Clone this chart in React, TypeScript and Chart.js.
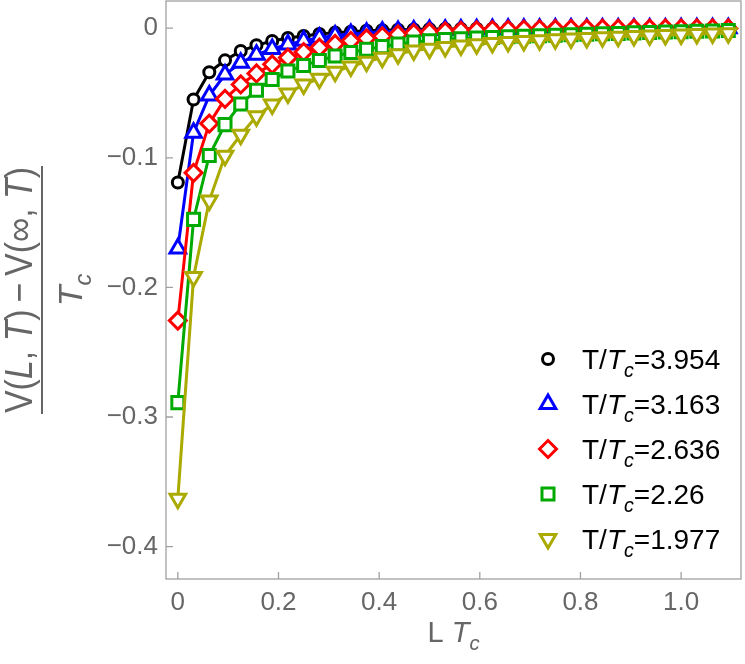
import React, { useEffect, useRef } from 'react';
import { Chart, registerables } from 'chart.js';

Chart.register(...registerables);

// L*Tc sample points
const lTc = [
  0, 0.03125, 0.0625, 0.09375, 0.125, 0.15625, 0.1875, 0.21875, 0.25, 0.28125,
  0.3125, 0.34375, 0.375, 0.40625, 0.4375, 0.46875, 0.5, 0.53125, 0.5625, 0.59375,
  0.625, 0.65625, 0.6875, 0.71875, 0.75, 0.78125, 0.8125, 0.84375, 0.875, 0.90625,
  0.9375, 0.96875, 1.0, 1.03125, 1.0625, 1.09375,
];

// (V(L,T) - V(inf,T)) / Tc for each temperature
const v3954 = [
  -0.119, -0.055, -0.034, -0.0248, -0.0176, -0.0132, -0.0098, -0.0075, -0.006, -0.0045,
  -0.0034, -0.0027, -0.002, -0.0015, -0.0011, -0.0009, -0.0007, -0.0006, -0.0005, -0.0004,
  -0.0004, -0.0003, -0.0003, -0.0002, -0.0002, -0.0002, -0.0001, -0.0001, -0.0001, -0.0001,
  -0.0001, -0.0001, -0.0001, -0.0001, -0.0001, -0.0001,
];
const v3163 = [
  -0.17, -0.0806, -0.052, -0.0357, -0.0266, -0.0205, -0.016, -0.0125, -0.0097, -0.0074,
  -0.0057, -0.0045, -0.0035, -0.0028, -0.0022, -0.0017, -0.0014, -0.0011, -0.0009, -0.0008,
  -0.0006, -0.0005, -0.0005, -0.0004, -0.0003, -0.0003, -0.0003, -0.0002, -0.0002, -0.0002,
  -0.0002, -0.0002, -0.0001, -0.0001, -0.0001, -0.0001,
];
const v2636 = [
  -0.2256, -0.1116, -0.0736, -0.0545, -0.0434, -0.0349, -0.0279, -0.0227, -0.0184, -0.015,
  -0.0121, -0.0097, -0.0078, -0.0062, -0.0048, -0.0038, -0.0031, -0.0025, -0.002, -0.0017,
  -0.0014, -0.0012, -0.001, -0.0008, -0.0007, -0.0006, -0.0005, -0.0004, -0.0004, -0.0003,
  -0.0003, -0.0002, -0.0002, -0.0002, -0.0002, -0.0002,
];
const v2260 = [
  -0.2889, -0.1475, -0.0982, -0.0744, -0.0584, -0.0478, -0.0395, -0.0331, -0.0287, -0.025,
  -0.0215, -0.0188, -0.0163, -0.0142, -0.0122, -0.0106, -0.0096, -0.0088, -0.0081, -0.0076,
  -0.0071, -0.0066, -0.0062, -0.0058, -0.0054, -0.0051, -0.0047, -0.0043, -0.004, -0.0036,
  -0.0033, -0.003, -0.0027, -0.0024, -0.0021, -0.0018,
];
const v1977 = [
  -0.363, -0.192, -0.133, -0.0984, -0.0822, -0.068, -0.0589, -0.0504, -0.0434, -0.039,
  -0.0335, -0.0295, -0.0258, -0.0228, -0.02, -0.0172, -0.0158, -0.0145, -0.0134, -0.0124,
  -0.0115, -0.0107, -0.0099, -0.0092, -0.0086, -0.008, -0.0075, -0.007, -0.0065, -0.006,
  -0.0056, -0.0052, -0.0048, -0.0044, -0.0041, -0.0038,
];

const series = [v3954, v3163, v2636, v2260, v1977];
const ratios = ['3.954', '3.163', '2.636', '2.26', '1.977'];
const colors = ['#000000', '#0000ff', '#ff0000', '#00aa00', '#aaaa00'];
const markers = ['circle', 'triangle', 'rectRot', 'rect', 'triangleDown'];
const radii = [5.5, 9, 8.5, 8.5, 9];

const FONT = '"Liberation Sans", Arial, sans-serif';
const GRAY = '#666666';
const FRAME = '#a0a0a0';

type Seg = { t: string; it?: boolean; sub?: boolean };

const segFont = (s: Seg, size: number) =>
  `${s.it ? 'italic ' : ''}${s.sub ? size * 0.7 : size}px ${FONT}`;

function segsWidth(ctx: CanvasRenderingContext2D, segs: Seg[], size: number) {
  let w = 0;
  for (const s of segs) {
    ctx.font = segFont(s, size);
    w += ctx.measureText(s.t).width;
  }
  return w;
}

function drawSegs(ctx: CanvasRenderingContext2D, segs: Seg[], x: number, y: number, size: number, center: boolean) {
  let cx = center ? x - segsWidth(ctx, segs, size) / 2 : x;
  ctx.textAlign = 'left';
  ctx.textBaseline = 'alphabetic';
  for (const s of segs) {
    ctx.font = segFont(s, size);
    ctx.fillText(s.t, cx, s.sub ? y + size * 0.27 : y);
    cx += ctx.measureText(s.t).width;
  }
}

function drawMarker(ctx: CanvasRenderingContext2D, style: string, x: number, y: number, r: number, color: string) {
  ctx.beginPath();
  if (style === 'circle') {
    ctx.arc(x, y, r, 0, Math.PI * 2);
  } else if (style === 'triangle' || style === 'triangleDown') {
    const d = style === 'triangle' ? 1 : -1;
    ctx.moveTo(x, y - d * r);
    ctx.lineTo(x + r * 0.866, y + d * r * 0.5);
    ctx.lineTo(x - r * 0.866, y + d * r * 0.5);
    ctx.closePath();
  } else if (style === 'rectRot') {
    ctx.moveTo(x, y - r);
    ctx.lineTo(x + r, y);
    ctx.lineTo(x, y + r);
    ctx.lineTo(x - r, y);
    ctx.closePath();
  } else {
    const h = r * Math.SQRT1_2;
    ctx.rect(x - h, y - h, 2 * h, 2 * h);
  }
  ctx.fillStyle = '#ffffff';
  ctx.fill();
  ctx.strokeStyle = color;
  ctx.lineWidth = 3;
  ctx.stroke();
}

const decorPlugin = {
  id: 'decor',
  afterDraw(chart: any) {
    const { ctx, chartArea: a, scales } = chart;
    ctx.save();

    // frame and inward ticks
    ctx.strokeStyle = FRAME;
    ctx.lineWidth = 1.3;
    ctx.strokeRect(a.left, a.top, a.right - a.left, a.bottom - a.top);
    ctx.beginPath();
    for (const t of scales.x.ticks) {
      const px = scales.x.getPixelForValue(t.value);
      ctx.moveTo(px, a.bottom);
      ctx.lineTo(px, a.bottom - 7);
    }
    for (const t of scales.y.ticks) {
      const py = scales.y.getPixelForValue(t.value);
      ctx.moveTo(a.left, py);
      ctx.lineTo(a.left + 7, py);
    }
    ctx.stroke();

    // x title
    ctx.fillStyle = GRAY;
    drawSegs(ctx, [{ t: 'L ' }, { t: 'T', it: true }, { t: 'c', it: true, sub: true }],
      (a.left + a.right) / 2, 642, 29, true);

    // y title (fraction, rotated)
    ctx.save();
    ctx.translate(0, (a.top + a.bottom) / 2);
    ctx.rotate(-Math.PI / 2);
    const num: Seg[] = [
      { t: 'V(' }, { t: 'L', it: true }, { t: ', ' }, { t: 'T', it: true },
      { t: ')\u2009\u2212\u2009V(\u221e, ' }, { t: 'T', it: true }, { t: ')' },
    ];
    const numSize = 38;
    const squeeze = 246 / segsWidth(ctx, num, numSize);
    ctx.fillStyle = GRAY;
    ctx.save();
    ctx.scale(squeeze, 1);
    drawSegs(ctx, num, 0, 31.5, numSize, true);
    ctx.restore();
    ctx.fillRect(-124, 41, 248, 2);
    drawSegs(ctx, [{ t: 'T', it: true }, { t: 'c', it: true, sub: true }], 0, 82, 34, true);
    ctx.restore();

    // legend
    const mx = a.right - 193;
    ratios.forEach((r, i) => {
      const y = a.bottom - 220 + i * 45;
      drawMarker(ctx, markers[i], mx, y, radii[i], colors[i]);
      ctx.fillStyle = '#000000';
      drawSegs(ctx, [{ t: 'T/' }, { t: 'T', it: true }, { t: 'c', it: true, sub: true }, { t: '=' + r }],
        mx + 34, y + 10, 28, false);
    });

    ctx.restore();
  },
};

const App: React.FC = () => {
  const canvasRef = useRef<HTMLCanvasElement>(null);

  useEffect(() => {
    if (!canvasRef.current) return;
    const datasets = series.map((vals, i) => ({
      label: 'T/Tc=' + ratios[i],
      data: vals.map((v, k) => ({ x: lTc[k], y: v })),
      borderColor: colors[i],
      borderWidth: 3,
      pointStyle: markers[i] === 'triangleDown' ? 'triangle' : markers[i],
      pointRotation: markers[i] === 'triangleDown' ? 180 : 0,
      pointRadius: radii[i],
      pointBorderWidth: 3,
      pointBorderColor: colors[i],
      pointBackgroundColor: '#ffffff',
      tension: 0,
      fill: false,
      order: series.length - i,
    }));

    const chart = new Chart(canvasRef.current, {
      type: 'line',
      data: { datasets },
      options: {
        animation: false,
        responsive: true,
        maintainAspectRatio: false,
        layout: { autoPadding: false, padding: { top: 1, right: 4, left: 0, bottom: 0 } },
        plugins: { legend: { display: false }, tooltip: { enabled: false } },
        scales: {
          x: {
            type: 'linear',
            min: -0.0235,
            max: 1.119,
            grid: { display: false, drawTicks: false },
            border: { display: false },
            ticks: {
              stepSize: 0.2,
              includeBounds: false,
              padding: 8,
              color: GRAY,
              font: { family: FONT, size: 26 },
              maxRotation: 0,
              callback: (v: any) => (Math.abs(v) < 1e-9 ? '0' : Number(v).toFixed(1)),
            },
            afterFit: (s: any) => {
              s.height = 85;
              s.paddingLeft = 0;
              s.paddingRight = 0;
            },
          },
          y: {
            type: 'linear',
            min: -0.425,
            max: 0.021,
            grid: { display: false, drawTicks: false },
            border: { display: false },
            ticks: {
              stepSize: 0.1,
              includeBounds: false,
              padding: 8,
              color: GRAY,
              font: { family: FONT, size: 26 },
              callback: (v: any) => (Math.abs(v) < 1e-9 ? '0' : '\u2212' + Math.abs(Number(v)).toFixed(1)),
            },
            afterFit: (s: any) => {
              s.width = 166;
              s.paddingTop = 0;
              s.paddingBottom = 0;
            },
          },
        },
      },
      plugins: [decorPlugin],
    });

    return () => chart.destroy();
  }, []);

  return (
    <div style={{ position: 'absolute', left: 0, top: 0, width: 745, height: 664, background: '#ffffff' }}>
      <canvas ref={canvasRef} />
    </div>
  );
};

export default App;
